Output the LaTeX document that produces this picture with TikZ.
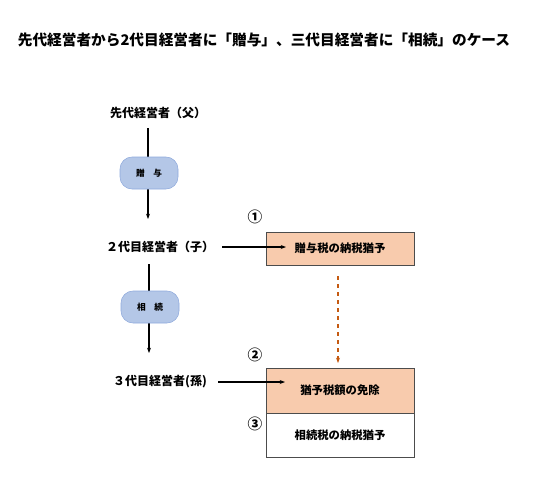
\documentclass[tikz,border=0pt]{standalone}
\usepackage{fontspec}
\setmainfont{Noto Sans CJK JP}
\usetikzlibrary{arrows.meta}

\definecolor{pillblue}{HTML}{B4C7E7}
\definecolor{pilledge}{HTML}{8FAADC}
\definecolor{taxorange}{HTML}{F8CBAD}
\definecolor{dashorange}{HTML}{C55A11}

\tikzset{
    person/.style = {font = {\fontsize{9}{10}\selectfont\bfseries}, black},
    pill/.style = {draw = pilledge, fill = pillblue, rounded corners = 9pt,
        minimum width = 58*0.75pt, minimum height = 32*0.75pt,
        font = {\fontsize{6.5}{7}\selectfont\bfseries}},
    taxbox/.style = {draw = black!70, minimum width = 148*0.75pt,
        font = {\fontsize{8.5}{10}\selectfont\bfseries}},
    num/.style = {font = {\fontsize{11}{12}\selectfont\bfseries}},
    flow/.style = {-{Stealth[length=4pt]}, line width = 0.9pt, black}
}

\begin{document}
\begin{tikzpicture}[x=0.75pt, y=-0.75pt]
        \useasboundingbox (0, 0) rectangle (550, 480);

        % title
        \node[font = {\fontsize{11}{13}\selectfont\bfseries}, black] (title) at (264, 40)
            {先代経営者から2代目経営者に「贈与」、三代目経営者に「相続」のケース};

        % left column: lines first, pills on top
        \coordinate (f1) at (148, 128);
        \coordinate (f2) at (148, 219);
        \coordinate (c1) at (149, 264);
        \coordinate (c2) at (149, 353);
        \draw[flow] (f1) -- (f2);
        \draw[flow] (c1) -- (c2);

        \node[person] (father) at (158, 113) {先代経営者（父）};
        \node[person] (child) at (160, 247) {２代目経営者（子）};
        \node[person] (grandchild) at (160, 382) {３代目経営者(孫)};
        \node[pill] (gift) at (149, 173) {贈\hspace{1em}与};
        \node[pill] (inherit) at (150, 307) {相\hspace{1em}続};

        % right column
        \node[taxbox, fill = taxorange, minimum height = 33*0.75pt] (defer) at (340, 248.5) {贈与税の納税猶予};
        \node[taxbox, fill = taxorange, minimum height = 45*0.75pt] (exempt) at (340, 390.5) {猶予税額の免除};
        \node[taxbox, fill = white, minimum height = 44*0.75pt, anchor = north] (inhdefer) at (exempt.south) {相続税の納税猶予};

        \node[num] (n1) at (255, 217) {①};
        \node[num] (n2) at (255, 355) {②};
        \node[num] (n3) at (255, 424) {③};

        \coordinate (a1) at (222, 247);
        \coordinate (a2) at (286, 247);
        \coordinate (a3) at (218, 382);
        \coordinate (a4) at (285, 382);
        \coordinate (d1) at (338, 276);
        \coordinate (d2) at (338, 363);
        \draw[flow] (a1) -- (a2);
        \draw[flow] (a3) -- (a4);
        \draw[dashorange, dashed, line width = 0.9pt, -{Stealth[length=4pt]}] (d1) -- (d2);
    \end{tikzpicture}
\end{document}
